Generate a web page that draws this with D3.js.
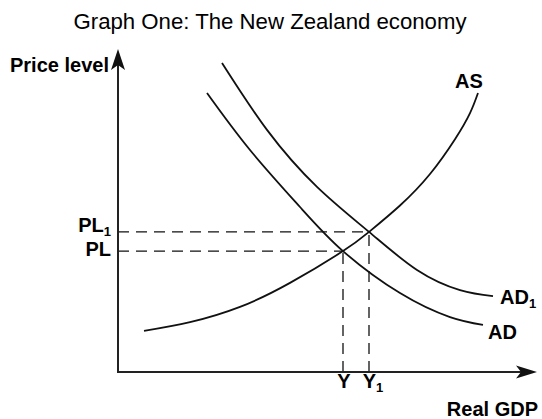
<!DOCTYPE html>
<html>
<head>
<meta charset="utf-8">
<script src="https://cdn.jsdelivr.net/npm/d3@7"></script>
<style>
  body { margin: 0; background: #fff; }
  text { font-family: "Liberation Sans", Arial, sans-serif; fill: #000; }
  .lbl { font-weight: bold; font-size: 20px; }
</style>
</head>
<body>
<div id="data-viz"></div>
<script>
// curves (x = real GDP, y = price level, both 0-100)
var asCurve = [[6.5,13.7],[18,16.6],[30.5,21.7],[43,29.7],[56.25,40.3],[62.75,46.7],
               [70.5,55.5],[78,66],[84.25,77.6],[88,86.3],[90,93]];
var ad1Curve = [[26,103],[37.25,80.7],[49.75,61.7],[62.75,46.7],[74.75,34],[85.5,27.3],[93.75,25.3]];
var adCurve = [[22.25,93],[33,74],[45.5,55],[56.25,40.3],[70.5,26.3],[83,18.3],[91.25,15.7]];

// equilibrium levels and their labels
var priceLevels = [40.3, 46.7];
var priceLabels = ["PL", "PL1"];
var outputs = [56.25, 62.75];
var outputLabels = ["Y", "Y1"];

var width = 542, height = 419;

var svg = d3.select("#data-viz")
  .append("svg")
    .attr("width", width)
    .attr("height", height);

var x = d3.scaleLinear().domain([0, 100]).range([118, 518]);
var y = d3.scaleLinear().domain([0, 100]).range([372, 72]);

// title
svg.append("text")
  .attr("x", 270).attr("y", 29)
  .attr("text-anchor", "middle")
  .style("font-size", "22.2px")
  .text("Graph One: The New Zealand economy");

// dashed guide lines
var guides = svg.append("g")
  .attr("stroke", "#111")
  .attr("stroke-width", 1.3)
  .attr("stroke-dasharray", "11,7")
  .attr("fill", "none");

priceLevels.forEach(function(p, i) {
  guides.append("line")
    .attr("x1", x(0)).attr("x2", x(outputs[i]))
    .attr("y1", y(p)).attr("y2", y(p));
  guides.append("line")
    .attr("x1", x(outputs[i])).attr("x2", x(outputs[i]))
    .attr("y1", y(0)).attr("y2", y(p));
});

// curves
var line = d3.line()
  .x(function(d) { return x(d[0]); })
  .y(function(d) { return y(d[1]); })
  .curve(d3.curveNatural);

[asCurve, ad1Curve, adCurve].forEach(function(c) {
  svg.append("path")
    .datum(c)
    .attr("fill", "none")
    .attr("stroke", "#111")
    .attr("stroke-width", 1.8)
    .attr("d", line);
});

// axes with arrow heads
var xEnd = 104.75, yEnd = 107.7;
svg.append("path")
  .attr("fill", "none")
  .attr("stroke", "#222")
  .attr("stroke-width", 2)
  .attr("d", "M" + x(0) + "," + (y(yEnd) + 16) + "V" + y(0) + "H" + (x(xEnd) - 16));

var tx = x(0), ty = y(yEnd);
svg.append("path")
  .attr("fill", "#111")
  .attr("d", "M" + tx + "," + ty + "L" + (tx + 7) + "," + (ty + 21) + "L" + tx + "," + (ty + 16) +
             "L" + (tx - 7) + "," + (ty + 21) + "Z");
var ax = x(xEnd), ay = y(0);
svg.append("path")
  .attr("fill", "#111")
  .attr("d", "M" + ax + "," + ay + "L" + (ax - 21) + "," + (ay - 6.5) + "L" + (ax - 16) + "," + ay +
             "L" + (ax - 21) + "," + (ay + 6.5) + "Z");

// axis titles
svg.append("text").attr("class", "lbl")
  .attr("x", 10).attr("y", 72)
  .text("Price level");
svg.append("text").attr("class", "lbl")
  .attr("x", 538).attr("y", 416)
  .attr("text-anchor", "end")
  .text("Real GDP");

// label with an optional subscript "1"
function subLabel(g, txt, px, py, anchor) {
  var t = g.append("text").attr("class", "lbl")
    .attr("x", px).attr("y", py)
    .attr("text-anchor", anchor);
  var base = txt.replace("1", "");
  t.append("tspan").text(base);
  if (txt.indexOf("1") >= 0) {
    t.append("tspan").attr("dy", 4).style("font-size", "13px").text("1");
  }
  return t;
}

priceLevels.forEach(function(p, i) {
  subLabel(svg, priceLabels[i], 111, y(p) + (i == 0 ? 5 : 0), "end");
});
outputs.forEach(function(o, i) {
  subLabel(svg, outputLabels[i], x(o) + (i == 0 ? 1 : 4), 388, "middle");
});

// curve labels
subLabel(svg, "AS", 469, 88, "middle");
subLabel(svg, "AD1", 500, 304, "start");
subLabel(svg, "AD", 488, 339, "start");
</script>
</body>
</html>
